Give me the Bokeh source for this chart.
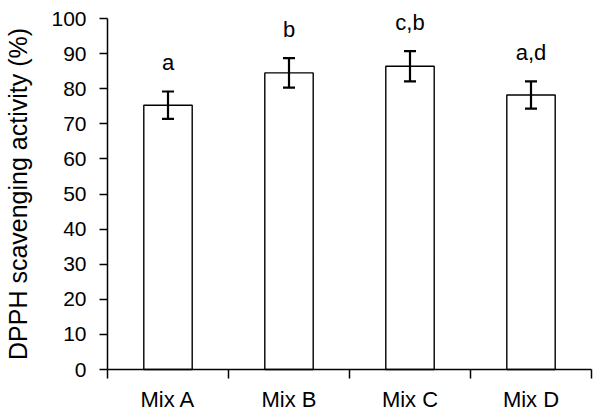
from bokeh.plotting import figure
from bokeh.models import ColumnDataSource, FixedTicker, Whisker, TeeHead, Range1d, LabelSet
from bokeh.core.properties import value
from bokeh.embed import file_html
from bokeh.resources import INLINE

categories = ["Mix A", "Mix B", "Mix C", "Mix D"]
means = [75.3, 84.5, 86.4, 78.2]
errors = [3.9, 4.2, 4.3, 3.9]
letters = ["a", "b", "c,b", "a,d"]
y_ticks = [0, 10, 20, 30, 40, 50, 60, 70, 80, 90, 100]
Y_MAX = 100

FONT = "Liberation Sans"
LETTER_GAP = 8.2  # data units above the error bar

# layout (pixels): the plotting frame covers the whole canvas, axes are fixed at 0
W, H = 593, 411
AX_LEFT, AX_RIGHT, AX_TOP, AX_BOTTOM = 107, 591, 18, 369
n = len(categories)
ppx = (AX_RIGHT - AX_LEFT) / n
ppy = (AX_BOTTOM - AX_TOP) / Y_MAX
x_range = Range1d(-AX_LEFT / ppx, n + (W - AX_RIGHT) / ppx)
y_range = Range1d(-(H - AX_BOTTOM) / ppy, Y_MAX + AX_TOP / ppy)

xs = [i + 0.5 for i in range(n)]
src = ColumnDataSource(dict(
    x=xs, top=means,
    upper=[m + e for m, e in zip(means, errors)],
    lower=[m - e for m, e in zip(means, errors)],
    ly=[m + e + LETTER_GAP for m, e in zip(means, errors)],
    lab=letters,
))

p = figure(width=W, height=H, output_backend="svg", toolbar_location=None,
           x_range=x_range, y_range=y_range,
           min_border_left=0, min_border_right=0, min_border_top=0, min_border_bottom=0)
p.outline_line_color = None
p.grid.visible = False
p.background_fill_color = "white"
p.border_fill_color = "white"

p.vbar(x="x", top="top", bottom=0, width=0.4, source=src,
       fill_color="white", line_color="black", line_width=1.4)

w = Whisker(base="x", upper="upper", lower="lower", source=src, level="annotation",
            line_color="black", line_width=2.2,
            upper_head=TeeHead(size=12, line_color="black", line_width=2.2),
            lower_head=TeeHead(size=12, line_color="black", line_width=2.2))
p.add_layout(w)

labels = LabelSet(x="x", y="ly", text="lab", source=src, text_align="center",
                  text_baseline="middle", text_font=value(FONT), text_font_size="22px",
                  text_color="black")
p.add_layout(labels)

xa = p.xaxis[0]
xa.fixed_location = 0
xa.bounds = (0, n)
xa.ticker = FixedTicker(ticks=xs, minor_ticks=list(range(n + 1)))
xa.major_label_overrides = {x: c for x, c in zip(xs, categories)}
xa.major_tick_out = 0
xa.major_tick_in = 0
xa.minor_tick_out = 9
xa.minor_tick_in = 0
xa.minor_tick_line_color = "black"
xa.minor_tick_line_width = 1.5
xa.axis_line_width = 1.5
xa.axis_line_color = "black"
xa.major_label_text_font = FONT
xa.major_label_text_font_size = "22px"
xa.major_label_text_color = "black"
xa.major_label_standoff = 8

ya = p.yaxis[0]
ya.fixed_location = 0
ya.bounds = (0, Y_MAX)
ya.ticker = FixedTicker(ticks=y_ticks, minor_ticks=[])
ya.major_tick_out = 8
ya.major_tick_in = 0
ya.major_tick_line_width = 1.5
ya.major_tick_line_color = "black"
ya.axis_line_width = 1.5
ya.axis_line_color = "black"
ya.major_label_text_font = FONT
ya.major_label_text_font_size = "21px"
ya.major_label_text_color = "black"
ya.major_label_standoff = 13
ya.axis_label = "DPPH scavenging activity (%)"
ya.axis_label_text_font = FONT
ya.axis_label_text_font_style = "normal"
ya.axis_label_text_font_size = "25px"
ya.axis_label_text_color = "black"
ya.axis_label_standoff = 16

open("out.html", "w").write(file_html(p, INLINE))
